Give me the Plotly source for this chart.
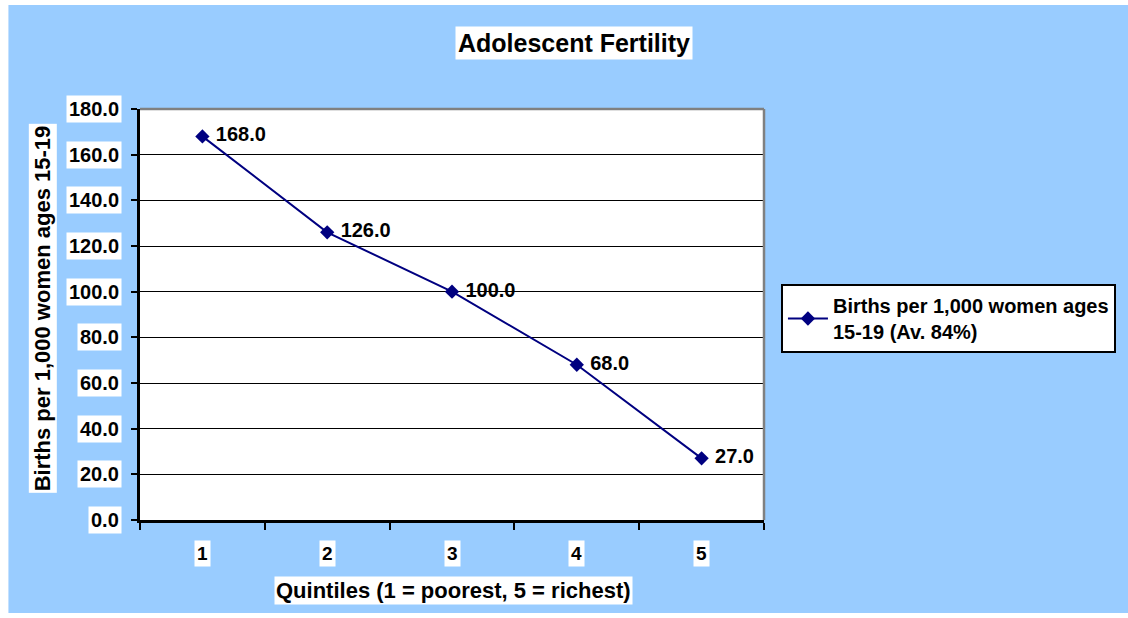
import plotly.graph_objects as go

quintiles = [1, 2, 3, 4, 5]
births = [168.0, 126.0, 100.0, 68.0, 27.0]
y_ticks = [0, 20, 40, 60, 80, 100, 120, 140, 160, 180]
series_name = "Births per 1,000 women ages<br>15-19 (Av. 84%)"
title_text = "Adolescent Fertility"
x_title = "Quintiles (1 = poorest, 5 = richest)"
y_title = "Births per 1,000 women ages 15-19"

FONT = "Arial, Liberation Sans, sans-serif"
W, H = 1128, 618
L, R, T, B = 140, 766, 109, 520

def px(p):
    return (p - L) / (R - L)

def py(p):
    return (B - p) / (B - T)

fig = go.Figure()
fig.add_trace(go.Scatter(
    x=quintiles, y=births,
    name="<b>" + series_name.replace("<br>", "</b><br><b>") + "</b>",
    mode="lines+markers+text",
    line=dict(color="#000080", width=2),
    marker=dict(symbol="diamond", size=11, color="#000080"),
    text=[f" <b>{v:.1f}</b>" for v in births],
    textposition="middle right",
    textfont=dict(family=FONT, size=20, color="black"),
    cliponaxis=False,
))

annotations = []
for v in y_ticks:
    annotations.append(dict(
        xref="paper", yref="y", x=px(122), y=v, xanchor="right", yanchor="middle",
        text=f"<b>{v:.1f}</b>", showarrow=False, bgcolor="white", borderpad=2,
        font=dict(family=FONT, size=20, color="black")))
for q in quintiles:
    annotations.append(dict(
        xref="x", yref="paper", x=q, y=py(553), xanchor="center", yanchor="middle",
        text=f"<b>{q}</b>", showarrow=False, bgcolor="white", borderpad=2,
        font=dict(family=FONT, size=19, color="black")))
annotations.append(dict(
    xref="paper", yref="paper", x=px(455), y=py(590), xanchor="center", yanchor="middle",
    text=f"<b>{x_title}</b>", showarrow=False, bgcolor="white", borderpad=1,
    font=dict(family=FONT, size=22, color="black")))
annotations.append(dict(
    xref="paper", yref="paper", x=px(575), y=py(43), xanchor="center", yanchor="middle",
    text=f"<b>{title_text}</b>", showarrow=False, bgcolor="white", borderpad=2,
    font=dict(family=FONT, size=25, color="black")))
annotations.append(dict(
    xref="paper", yref="paper", x=px(42), y=py(308), xanchor="center", yanchor="middle",
    text=f"<b>{y_title}</b>", textangle=-90, showarrow=False, bgcolor="white", borderpad=1,
    font=dict(family=FONT, size=22, color="black")))

shapes = [
    dict(type="rect", xref="paper", yref="paper", x0=px(8), x1=px(1140), y0=py(613), y1=py(5),
         fillcolor="#99CCFF", line=dict(width=0), layer="below"),
    dict(type="rect", xref="paper", yref="paper", x0=0, x1=1, y0=0, y1=1,
         fillcolor="white", line=dict(width=0), layer="below"),
    dict(type="line", xref="paper", yref="paper", x0=0, x1=1, y0=1, y1=1,
         line=dict(color="#808080", width=2.5)),
    dict(type="line", xref="paper", yref="paper", x0=1, x1=1, y0=0, y1=1,
         line=dict(color="#808080", width=2.5)),
]

fig.update_layout(
    width=W, height=H,
    margin=dict(l=L, r=W - R, t=T, b=H - B, pad=0),
    paper_bgcolor="white", plot_bgcolor="white",
    showlegend=True,
    legend=dict(x=px(783), y=py(284), xanchor="left", yanchor="top",
                bgcolor="white", bordercolor="black", borderwidth=2,
                font=dict(family=FONT, size=20, color="black"),
                itemwidth=40, tracegroupgap=0),
    annotations=annotations, shapes=shapes,
    font=dict(family=FONT),
)
fig.update_xaxes(range=[0.5, 5.5], tickvals=[0.5, 1.5, 2.5, 3.5, 4.5, 5.5],
                 showticklabels=False, ticks="outside", ticklen=7, tickcolor="black", tickwidth=2,
                 showgrid=False, zeroline=False, showline=True, linecolor="black", linewidth=2.5)
fig.update_yaxes(range=[0, 180], tickvals=y_ticks, showticklabels=False,
                 ticks="outside", ticklen=6, tickcolor="black", tickwidth=2,
                 showgrid=True, gridcolor="black", gridwidth=1.2,
                 zeroline=False, showline=True, linecolor="black", linewidth=2.5)

fig.write_html("out.html", config={"displayModeBar": False},
               post_script="document.body.style.margin='0';document.body.style.overflow='hidden';")
